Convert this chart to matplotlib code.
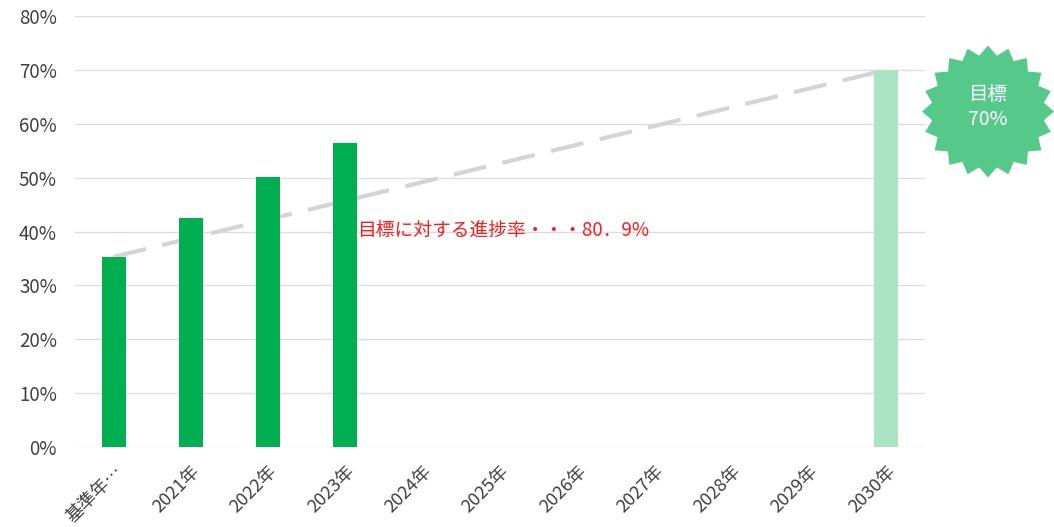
import matplotlib
matplotlib.use('Agg')
import matplotlib.pyplot as plt
from matplotlib.patches import Polygon
import numpy as np

plt.rcParams['font.family'] = ['Noto Sans CJK JP', 'DejaVu Sans']

categories = ['基準年…', '2021年', '2022年', '2023年', '2024年', '2025年',
              '2026年', '2027年', '2028年', '2029年', '2030年']
actual = [35.3, 42.5, 50.1, 56.5, 0, 0, 0, 0, 0, 0, 0]
target = [0, 0, 0, 0, 0, 0, 0, 0, 0, 0, 70]
trend_x = [0, 10]
trend_y = [35.3, 70]
yticks = [0, 10, 20, 30, 40, 50, 60, 70, 80]

fig = plt.figure(figsize=(10.54, 5.27), dpi=100)
ax = fig.add_axes([75/1054, 1-447/527, 850/1054, 431/527])

x = np.arange(len(categories))
ax.plot(trend_x, trend_y, color='#d4d4d4', lw=3, dashes=(8, 4), zorder=2)
ax.bar(x, actual, width=0.31, color='#00b050', zorder=3)
ax.bar(x, target, width=0.31, color='#a9e4c3', zorder=3)

ax.set_xlim(-0.5, 10.5)
ax.set_ylim(0, 80)
ax.set_yticks(yticks)
ax.set_yticklabels([f'{v}%' for v in yticks], fontsize=13.5, color='#404040')
ax.set_xticks(x)
ax.set_xticklabels(categories, rotation=45, ha='right', rotation_mode='anchor',
                   fontsize=13, color='#404040')
ax.tick_params(axis='y', length=0, pad=13)
ax.tick_params(axis='x', length=0, pad=11)
ax.grid(axis='y', color='#dcdcdc', lw=1, zorder=0)
for s in ax.spines.values():
    s.set_visible(False)
ax.set_axisbelow(True)

ax.text(3.15, 40.3, '目標に対する進捗率・・・80．9%', color='#ff1a1a',
        fontsize=13.5, va='center', ha='left', zorder=4)

# starburst badge
cx, cy = 9.88, 5.27 - 1.115
n = 20
ang = np.linspace(0, 2*np.pi, 2*n, endpoint=False) + np.pi/2
r = np.where(np.arange(2*n) % 2 == 0, 0.66, 0.565)
pts = np.column_stack([cx + r*np.cos(ang), cy + r*np.sin(ang)])
fig.patches.append(Polygon(pts, closed=True, facecolor='#55c98a', edgecolor='none',
                           transform=fig.dpi_scale_trans, figure=fig))
fig.text(cx/10.54, cy/5.27 + 0.008, '目標\n70%', color='white', fontsize=14,
         ha='center', va='center', linespacing=1.25)

fig.savefig('out.png', dpi=100)
